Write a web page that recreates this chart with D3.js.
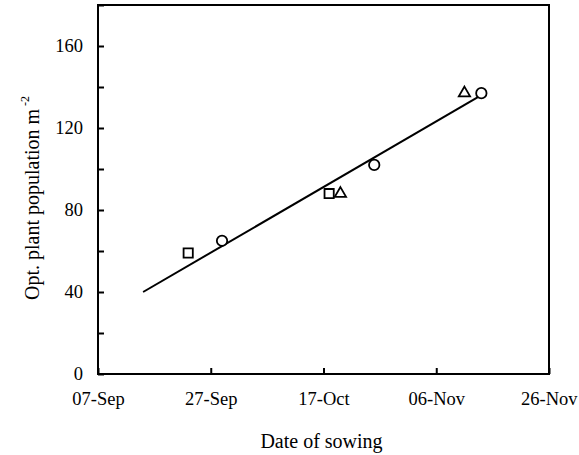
<!DOCTYPE html>
<html>
<head>
<meta charset="utf-8">
<script src="https://cdn.jsdelivr.net/npm/d3@7"></script>
<style>
  html, body { margin: 0; padding: 0; background: #fff; overflow: hidden; }
  svg { display: block; }
  text { font-family: "Liberation Serif", "Times New Roman", serif; fill: #000; }
</style>
</head>
<body>
<svg id="chart"></svg>
<script>
// Data (dates of sowing, optimum plant population m-2)
const squareDates = ["2001-09-23", "2001-10-18"];
const squareValues = [59, 88];
const circleDates = ["2001-09-29", "2001-10-26", "2001-11-14"];
const circleValues = [65, 102, 137];
const triangleDates = ["2001-10-20", "2001-11-11"];
const triangleValues = [88, 137];
const fitDates = ["2001-09-15", "2001-11-14"];
const fitValues = [40, 136];
const xTickDates = ["2001-09-07", "2001-09-27", "2001-10-17", "2001-11-06", "2001-11-26"];
const yTicks = [0, 20, 40, 60, 80, 100, 120, 140, 160, 180];
const yLabels = [0, 40, 80, 120, 160];

const parse = d3.timeParse("%Y-%m-%d");
const fmt = d3.timeFormat("%d-%b");

const width = 579;
const height = 455;
const margin = { top: 5, right: 30, bottom: 81, left: 98 };
const innerWidth = width - margin.left - margin.right;
const innerHeight = height - margin.top - margin.bottom;

const svg = d3.select("#chart")
    .attr("width", width)
    .attr("height", height);

const g = svg.append("g")
    .attr("transform", `translate(${margin.left},${margin.top})`);

const xScale = d3.scaleTime()
    .domain([parse(xTickDates[0]), parse(xTickDates[xTickDates.length - 1])])
    .range([0, innerWidth]);

const yScale = d3.scaleLinear()
    .domain([0, 180])
    .range([innerHeight, 0]);

// x axis, ticks pointing inside
const xAxis = d3.axisBottom(xScale)
    .tickValues(xTickDates.map(parse))
    .tickSizeInner(-6)
    .tickSizeOuter(0)
    .tickPadding(0)
    .tickFormat(fmt);

const xg = g.append("g")
    .attr("transform", `translate(0,${innerHeight})`)
    .call(xAxis);
xg.select(".domain").remove();
xg.selectAll(".tick line").attr("stroke", "#000").attr("stroke-width", 2);
xg.selectAll(".tick text")
    .attr("y", 31)
    .attr("dy", 0)
    .style("font-size", "18.5px");
// last label sits against the right edge, like the original
xg.selectAll(".tick text")
    .filter((d, i) => i === xTickDates.length - 1)
    .attr("text-anchor", "end")
    .attr("x", 28);

// y axis, ticks pointing inside, labels only every 40
const yAxis = d3.axisLeft(yScale)
    .tickValues(yTicks)
    .tickSizeInner(-6)
    .tickSizeOuter(0)
    .tickPadding(15);

const yg = g.append("g").call(yAxis);
yg.select(".domain").remove();
yg.selectAll(".tick line").attr("stroke", "#000").attr("stroke-width", 2);
yg.selectAll(".tick text")
    .filter(d => !yLabels.includes(d))
    .remove();
yg.selectAll(".tick text").style("font-size", "18.5px");

// frame
g.append("rect")
    .attr("x", 0)
    .attr("y", 0)
    .attr("width", innerWidth)
    .attr("height", innerHeight)
    .attr("fill", "none")
    .attr("stroke", "#000")
    .attr("stroke-width", 2);

// fitted line
const line = d3.line()
    .x(d => xScale(d.date))
    .y(d => yScale(d.value));

const fit = fitDates.map((d, i) => ({ date: parse(d), value: fitValues[i] }));
g.append("path")
    .datum(fit)
    .attr("d", line)
    .attr("fill", "none")
    .attr("stroke", "#000")
    .attr("stroke-width", 2);

// markers
function addMarkers(dates, values, name, sym, size) {
    const pts = dates.map((d, i) => ({ date: parse(d), value: values[i] }));
    g.selectAll(".m-" + name)
        .data(pts)
        .enter().append("path")
        .attr("class", "m-" + name)
        .attr("transform", d => `translate(${xScale(d.date)},${yScale(d.value)})`)
        .attr("d", d3.symbol().type(sym).size(size))
        .attr("fill", "#fff")
        .attr("stroke", "#000")
        .attr("stroke-width", 1.8);
}

addMarkers(squareDates, squareValues, "sq", d3.symbolSquare, 85);
addMarkers(circleDates, circleValues, "ci", d3.symbolCircle, 85);
addMarkers(triangleDates, triangleValues, "tr", d3.symbolTriangle, 55);

// axis titles
svg.append("text")
    .attr("x", margin.left + innerWidth / 2 - 2)
    .attr("y", 448)
    .attr("text-anchor", "middle")
    .style("font-size", "20px")
    .text("Date of sowing");

const yTitle = svg.append("text")
    .attr("transform", "translate(39,300) rotate(-90)")
    .attr("text-anchor", "start")
    .style("font-size", "20px");
yTitle.append("tspan").text("Opt. plant population m");
yTitle.append("tspan")
    .attr("dy", -10)
    .style("font-size", "12px")
    .text(" -2");
</script>
</body>
</html>
